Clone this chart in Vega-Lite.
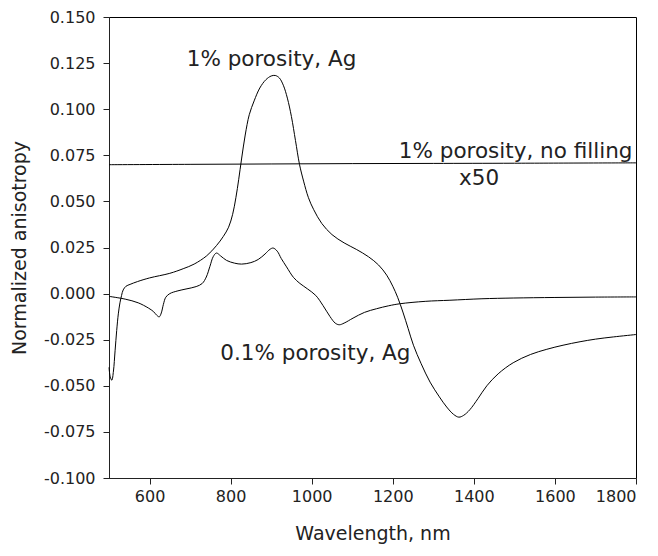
{
  "$schema": "https://vega.github.io/schema/vega-lite/v6.json",
  "width": 527,
  "height": 461,
  "autosize": {"type": "none"},
  "padding": {"left": 109, "top": 17, "right": 22, "bottom": 78},
  "background": "white",
  "config": {
    "view": {"stroke": "black", "strokeWidth": 1},
    "font": "DejaVu Sans",
    "axis": {"grid": false, "domainColor": "#222", "tickColor": "#222", "labelColor": "#222", "titleColor": "#222", "labelFont": "DejaVu Sans", "titleFont": "DejaVu Sans", "labelFontSize": 16, "titleFontWeight": "normal", "tickSize": 6}
  },
  "datasets": {
    "curves": [
      {"series": "1% porosity, Ag", "wavelength": 500, "value": -0.040},
      {"series": "1% porosity, Ag", "wavelength": 503, "value": -0.045},
      {"series": "1% porosity, Ag", "wavelength": 507, "value": -0.047},
      {"series": "1% porosity, Ag", "wavelength": 511, "value": -0.042},
      {"series": "1% porosity, Ag", "wavelength": 515, "value": -0.031},
      {"series": "1% porosity, Ag", "wavelength": 519, "value": -0.020},
      {"series": "1% porosity, Ag", "wavelength": 523, "value": -0.011},
      {"series": "1% porosity, Ag", "wavelength": 527, "value": -0.005},
      {"series": "1% porosity, Ag", "wavelength": 531, "value": -0.001},
      {"series": "1% porosity, Ag", "wavelength": 535, "value": 0.002},
      {"series": "1% porosity, Ag", "wavelength": 542, "value": 0.004},
      {"series": "1% porosity, Ag", "wavelength": 552, "value": 0.005},
      {"series": "1% porosity, Ag", "wavelength": 570, "value": 0.0065},
      {"series": "1% porosity, Ag", "wavelength": 600, "value": 0.0085},
      {"series": "1% porosity, Ag", "wavelength": 650, "value": 0.011},
      {"series": "1% porosity, Ag", "wavelength": 683, "value": 0.0135},
      {"series": "1% porosity, Ag", "wavelength": 710, "value": 0.016},
      {"series": "1% porosity, Ag", "wavelength": 741, "value": 0.0205},
      {"series": "1% porosity, Ag", "wavelength": 765, "value": 0.026},
      {"series": "1% porosity, Ag", "wavelength": 782, "value": 0.031},
      {"series": "1% porosity, Ag", "wavelength": 795, "value": 0.036},
      {"series": "1% porosity, Ag", "wavelength": 805, "value": 0.043},
      {"series": "1% porosity, Ag", "wavelength": 813, "value": 0.052},
      {"series": "1% porosity, Ag", "wavelength": 820, "value": 0.062},
      {"series": "1% porosity, Ag", "wavelength": 827, "value": 0.073},
      {"series": "1% porosity, Ag", "wavelength": 836, "value": 0.086},
      {"series": "1% porosity, Ag", "wavelength": 846, "value": 0.097},
      {"series": "1% porosity, Ag", "wavelength": 858, "value": 0.1045},
      {"series": "1% porosity, Ag", "wavelength": 872, "value": 0.1115},
      {"series": "1% porosity, Ag", "wavelength": 887, "value": 0.116},
      {"series": "1% porosity, Ag", "wavelength": 900, "value": 0.118},
      {"series": "1% porosity, Ag", "wavelength": 910, "value": 0.1183},
      {"series": "1% porosity, Ag", "wavelength": 920, "value": 0.117},
      {"series": "1% porosity, Ag", "wavelength": 930, "value": 0.113},
      {"series": "1% porosity, Ag", "wavelength": 940, "value": 0.106},
      {"series": "1% porosity, Ag", "wavelength": 950, "value": 0.096},
      {"series": "1% porosity, Ag", "wavelength": 960, "value": 0.083},
      {"series": "1% porosity, Ag", "wavelength": 970, "value": 0.070},
      {"series": "1% porosity, Ag", "wavelength": 980, "value": 0.061},
      {"series": "1% porosity, Ag", "wavelength": 992, "value": 0.052},
      {"series": "1% porosity, Ag", "wavelength": 1005, "value": 0.0455},
      {"series": "1% porosity, Ag", "wavelength": 1025, "value": 0.038},
      {"series": "1% porosity, Ag", "wavelength": 1050, "value": 0.032},
      {"series": "1% porosity, Ag", "wavelength": 1080, "value": 0.0275},
      {"series": "1% porosity, Ag", "wavelength": 1110, "value": 0.024},
      {"series": "1% porosity, Ag", "wavelength": 1140, "value": 0.020},
      {"series": "1% porosity, Ag", "wavelength": 1165, "value": 0.0155},
      {"series": "1% porosity, Ag", "wavelength": 1185, "value": 0.010},
      {"series": "1% porosity, Ag", "wavelength": 1200, "value": 0.004},
      {"series": "1% porosity, Ag", "wavelength": 1212, "value": -0.002},
      {"series": "1% porosity, Ag", "wavelength": 1225, "value": -0.010},
      {"series": "1% porosity, Ag", "wavelength": 1238, "value": -0.019},
      {"series": "1% porosity, Ag", "wavelength": 1251, "value": -0.028},
      {"series": "1% porosity, Ag", "wavelength": 1270, "value": -0.038},
      {"series": "1% porosity, Ag", "wavelength": 1292, "value": -0.048},
      {"series": "1% porosity, Ag", "wavelength": 1315, "value": -0.056},
      {"series": "1% porosity, Ag", "wavelength": 1333, "value": -0.0615},
      {"series": "1% porosity, Ag", "wavelength": 1350, "value": -0.0655},
      {"series": "1% porosity, Ag", "wavelength": 1363, "value": -0.067},
      {"series": "1% porosity, Ag", "wavelength": 1375, "value": -0.066},
      {"series": "1% porosity, Ag", "wavelength": 1390, "value": -0.063},
      {"series": "1% porosity, Ag", "wavelength": 1410, "value": -0.057},
      {"series": "1% porosity, Ag", "wavelength": 1432, "value": -0.050},
      {"series": "1% porosity, Ag", "wavelength": 1460, "value": -0.0435},
      {"series": "1% porosity, Ag", "wavelength": 1497, "value": -0.0375},
      {"series": "1% porosity, Ag", "wavelength": 1540, "value": -0.0330},
      {"series": "1% porosity, Ag", "wavelength": 1580, "value": -0.0302},
      {"series": "1% porosity, Ag", "wavelength": 1620, "value": -0.0280},
      {"series": "1% porosity, Ag", "wavelength": 1662, "value": -0.0261},
      {"series": "1% porosity, Ag", "wavelength": 1700, "value": -0.0247},
      {"series": "1% porosity, Ag", "wavelength": 1744, "value": -0.0235},
      {"series": "1% porosity, Ag", "wavelength": 1800, "value": -0.0222},
      {"series": "0.1% porosity, Ag", "wavelength": 500, "value": -0.0015},
      {"series": "0.1% porosity, Ag", "wavelength": 540, "value": -0.003},
      {"series": "0.1% porosity, Ag", "wavelength": 572, "value": -0.005},
      {"series": "0.1% porosity, Ag", "wavelength": 597, "value": -0.0078},
      {"series": "0.1% porosity, Ag", "wavelength": 610, "value": -0.0098},
      {"series": "0.1% porosity, Ag", "wavelength": 618, "value": -0.0118},
      {"series": "0.1% porosity, Ag", "wavelength": 624, "value": -0.0126},
      {"series": "0.1% porosity, Ag", "wavelength": 629, "value": -0.0105},
      {"series": "0.1% porosity, Ag", "wavelength": 634, "value": -0.006},
      {"series": "0.1% porosity, Ag", "wavelength": 640, "value": -0.002},
      {"series": "0.1% porosity, Ag", "wavelength": 650, "value": 0.0},
      {"series": "0.1% porosity, Ag", "wavelength": 670, "value": 0.0015},
      {"series": "0.1% porosity, Ag", "wavelength": 690, "value": 0.0025},
      {"series": "0.1% porosity, Ag", "wavelength": 715, "value": 0.0038},
      {"series": "0.1% porosity, Ag", "wavelength": 730, "value": 0.0055},
      {"series": "0.1% porosity, Ag", "wavelength": 740, "value": 0.009},
      {"series": "0.1% porosity, Ag", "wavelength": 749, "value": 0.0148},
      {"series": "0.1% porosity, Ag", "wavelength": 757, "value": 0.020},
      {"series": "0.1% porosity, Ag", "wavelength": 765, "value": 0.022},
      {"series": "0.1% porosity, Ag", "wavelength": 775, "value": 0.0205},
      {"series": "0.1% porosity, Ag", "wavelength": 790, "value": 0.018},
      {"series": "0.1% porosity, Ag", "wavelength": 810, "value": 0.0165},
      {"series": "0.1% porosity, Ag", "wavelength": 827, "value": 0.016},
      {"series": "0.1% porosity, Ag", "wavelength": 850, "value": 0.0168},
      {"series": "0.1% porosity, Ag", "wavelength": 868, "value": 0.0185},
      {"series": "0.1% porosity, Ag", "wavelength": 885, "value": 0.0215},
      {"series": "0.1% porosity, Ag", "wavelength": 897, "value": 0.024},
      {"series": "0.1% porosity, Ag", "wavelength": 905, "value": 0.0247},
      {"series": "0.1% porosity, Ag", "wavelength": 915, "value": 0.023},
      {"series": "0.1% porosity, Ag", "wavelength": 925, "value": 0.019},
      {"series": "0.1% porosity, Ag", "wavelength": 938, "value": 0.0145},
      {"series": "0.1% porosity, Ag", "wavelength": 955, "value": 0.0088},
      {"series": "0.1% porosity, Ag", "wavelength": 971, "value": 0.0055},
      {"series": "0.1% porosity, Ag", "wavelength": 990, "value": 0.0025},
      {"series": "0.1% porosity, Ag", "wavelength": 1010, "value": -0.001},
      {"series": "0.1% porosity, Ag", "wavelength": 1028, "value": -0.0065},
      {"series": "0.1% porosity, Ag", "wavelength": 1045, "value": -0.0124},
      {"series": "0.1% porosity, Ag", "wavelength": 1058, "value": -0.016},
      {"series": "0.1% porosity, Ag", "wavelength": 1068, "value": -0.0169},
      {"series": "0.1% porosity, Ag", "wavelength": 1080, "value": -0.016},
      {"series": "0.1% porosity, Ag", "wavelength": 1102, "value": -0.0133},
      {"series": "0.1% porosity, Ag", "wavelength": 1130, "value": -0.0102},
      {"series": "0.1% porosity, Ag", "wavelength": 1160, "value": -0.0082},
      {"series": "0.1% porosity, Ag", "wavelength": 1190, "value": -0.0066},
      {"series": "0.1% porosity, Ag", "wavelength": 1218, "value": -0.0055},
      {"series": "0.1% porosity, Ag", "wavelength": 1280, "value": -0.0042},
      {"series": "0.1% porosity, Ag", "wavelength": 1341, "value": -0.0036},
      {"series": "0.1% porosity, Ag", "wavelength": 1420, "value": -0.0028},
      {"series": "0.1% porosity, Ag", "wavelength": 1497, "value": -0.0024},
      {"series": "0.1% porosity, Ag", "wavelength": 1600, "value": -0.0021},
      {"series": "0.1% porosity, Ag", "wavelength": 1700, "value": -0.0019},
      {"series": "0.1% porosity, Ag", "wavelength": 1800, "value": -0.0018},
      {"series": "1% porosity, no filling x50", "wavelength": 500, "value": 0.0699},
      {"series": "1% porosity, no filling x50", "wavelength": 700, "value": 0.0701},
      {"series": "1% porosity, no filling x50", "wavelength": 900, "value": 0.0703},
      {"series": "1% porosity, no filling x50", "wavelength": 1100, "value": 0.0705},
      {"series": "1% porosity, no filling x50", "wavelength": 1300, "value": 0.0706},
      {"series": "1% porosity, no filling x50", "wavelength": 1500, "value": 0.0707},
      {"series": "1% porosity, no filling x50", "wavelength": 1800, "value": 0.0709}
    ],
    "labels": [
      {"label": "1% porosity, Ag", "wavelength": 901, "value": 0.1236},
      {"label": "1% porosity, no filling", "wavelength": 1503, "value": 0.0737},
      {"label": "x50", "wavelength": 1413, "value": 0.0591},
      {"label": "0.1% porosity, Ag", "wavelength": 1009, "value": -0.0358}
    ]
  },
  "layer": [
    {
      "data": {"name": "curves"},
      "mark": {"type": "line", "color": "black", "strokeWidth": 1, "interpolate": "catmull-rom"},
      "encoding": {
        "x": {"field": "wavelength", "type": "quantitative", "scale": {"domain": [500, 1800], "nice": false, "zero": false},
          "axis": {"values": [600, 800, 1000, 1200, 1400, 1600, 1800], "format": "d", "title": "Wavelength, nm", "titleFontSize": 19, "labelPadding": 4, "titlePadding": 20}},
        "y": {"field": "value", "type": "quantitative", "scale": {"domain": [-0.1, 0.15], "nice": false, "zero": false},
          "axis": {"values": [-0.1, -0.075, -0.05, -0.025, 0, 0.025, 0.05, 0.075, 0.1, 0.125, 0.15], "format": ".3f", "labelExpr": "replace(datum.label, '\u2212', '-')", "title": "Normalized anisotropy", "titleFontSize": 19, "labelPadding": 8, "titlePadding": 14}},
        "detail": {"field": "series", "type": "nominal"},
        "order": {"field": "wavelength", "type": "quantitative"}
      }
    },
    {
      "data": {"name": "labels"},
      "mark": {"type": "text", "font": "DejaVu Sans", "fontSize": 21.5, "color": "#222", "align": "center", "baseline": "alphabetic"},
      "encoding": {
        "x": {"field": "wavelength", "type": "quantitative"},
        "y": {"field": "value", "type": "quantitative"},
        "text": {"field": "label", "type": "nominal"}
      }
    }
  ]
}
